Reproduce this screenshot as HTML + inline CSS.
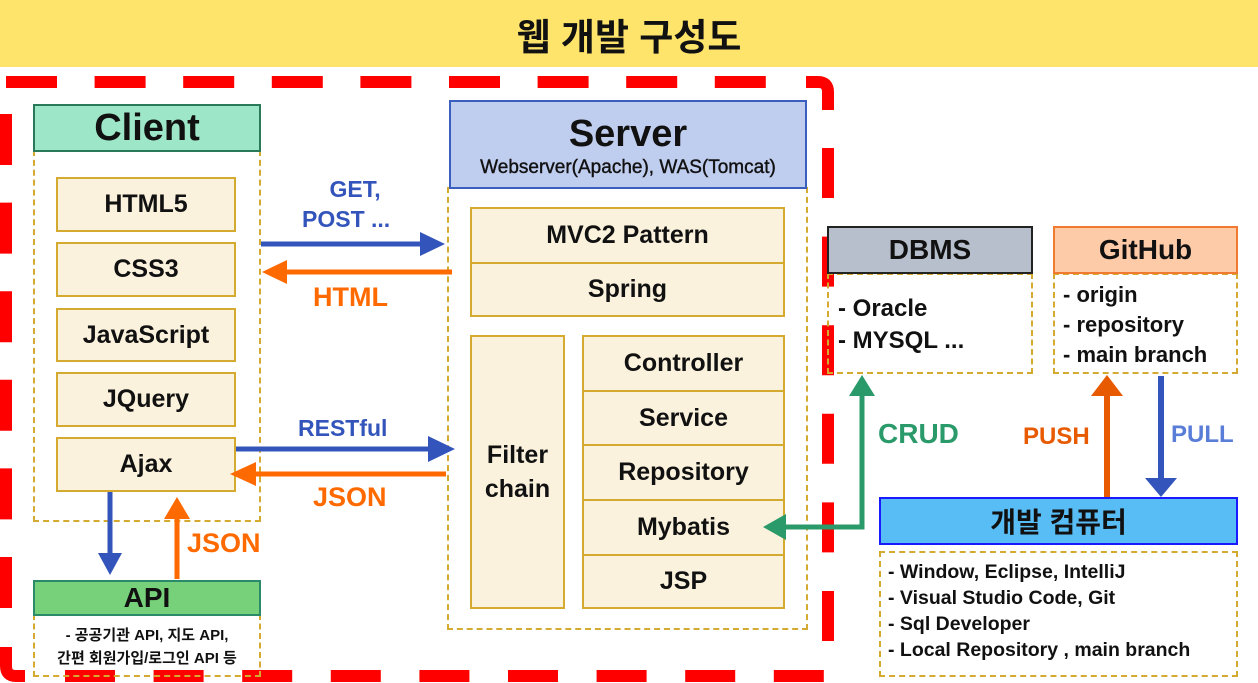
<!DOCTYPE html>
<html><head><meta charset="utf-8"><style>
body{margin:0;width:1258px;height:683px;position:relative;overflow:hidden;background:#fff;font-family:"Liberation Sans","Noto Sans CJK KR",sans-serif;font-weight:bold;color:#111}
.a{position:absolute;box-sizing:border-box;display:flex;align-items:center;justify-content:center;text-align:center}
.i{background:#faf2dc;border:2px solid #d4aa30;font-size:25px}
.d{position:absolute;box-sizing:border-box;border:2px dashed #d4aa30}
.t{position:absolute;white-space:nowrap}
</style></head><body>
<div class="a" style="left:0;top:0;width:1258px;height:67px;background:#fee46a;font-size:37px">웹 개발 구성도</div>
<svg style="position:absolute;left:0;top:0" width="1258" height="683">
<g stroke="#ff0000" stroke-width="12" fill="none">
<line x1="6" y1="82" x2="800" y2="82" stroke-dasharray="51 37.6"/>
<line x1="6" y1="114" x2="6" y2="640" stroke-dasharray="51 37.6"/>
<line x1="828" y1="148" x2="828" y2="645" stroke-dasharray="50 38.6"/>
<line x1="65" y1="676" x2="826" y2="676" stroke-dasharray="50 38.6"/>
<path d="M806,82 L818,82 Q828,82 828,92 L828,110"/>
<path d="M6,647 L6,666 Q6,676 16,676 L25,676"/>
</g>
</svg>
<!-- Client -->
<div class="d" style="left:33px;top:150px;width:228px;height:372px"></div>
<div class="a" style="left:33px;top:104px;width:228px;height:48px;background:#9de6c7;border:2px solid #2a7a5a;font-size:38px">Client</div>
<div class="a i" style="left:56px;top:177px;width:180px;height:55px">HTML5</div>
<div class="a i" style="left:56px;top:242px;width:180px;height:55px">CSS3</div>
<div class="a i" style="left:56px;top:308px;width:180px;height:54px">JavaScript</div>
<div class="a i" style="left:56px;top:372px;width:180px;height:55px">JQuery</div>
<div class="a i" style="left:56px;top:437px;width:180px;height:55px">Ajax</div>
<!-- API -->
<div class="d" style="left:33px;top:614px;width:228px;height:63px"></div>
<div class="a" style="left:33px;top:580px;width:228px;height:36px;background:#77d17a;border:2px solid #2a8a6a;font-size:28px">API</div>
<div class="t" style="left:33px;top:624px;width:228px;text-align:center;font-size:15px;line-height:23px">- 공공기관 API, 지도 API,<br>간편 회원가입/로그인 API 등</div>
<!-- Server -->
<div class="d" style="left:447px;top:187px;width:361px;height:443px"></div>
<div class="a" style="left:449px;top:100px;width:358px;height:89px;background:#bfcdee;border:2px solid #3a5fbf;flex-direction:column">
<div style="font-size:38px;line-height:46px">Server</div><div style="font-size:19px;font-weight:normal;-webkit-text-stroke:0.4px #111">Webserver(Apache), WAS(Tomcat)</div></div>
<div class="a i" style="left:470px;top:207px;width:315px;height:57px">MVC2 Pattern</div>
<div class="a i" style="left:470px;top:262px;width:315px;height:55px">Spring</div>
<div class="a i" style="left:470px;top:335px;width:95px;height:274px;line-height:34px">Filter<br>chain</div>
<div class="a i" style="left:582px;top:335px;width:203px;height:57px">Controller</div>
<div class="a i" style="left:582px;top:390px;width:203px;height:56px">Service</div>
<div class="a i" style="left:582px;top:444px;width:203px;height:57px">Repository</div>
<div class="a i" style="left:582px;top:499px;width:203px;height:57px">Mybatis</div>
<div class="a i" style="left:582px;top:554px;width:203px;height:55px">JSP</div>
<!-- DBMS -->
<div class="d" style="left:827px;top:273px;width:206px;height:101px"></div>
<div class="a" style="left:827px;top:226px;width:206px;height:48px;background:#b8bfcc;border:2px solid #222;font-size:28px">DBMS</div>
<div class="t" style="left:838px;top:293px;font-size:24px;line-height:32px">- Oracle<br>- MYSQL ...</div>
<!-- GitHub -->
<div class="d" style="left:1053px;top:273px;width:185px;height:101px"></div>
<div class="a" style="left:1053px;top:226px;width:185px;height:48px;background:#fdcba8;border:2px solid #f07a30;font-size:28px">GitHub</div>
<div class="t" style="left:1063px;top:280px;font-size:22px;line-height:30px">- origin<br>- repository<br>- main branch</div>
<!-- Dev -->
<div class="d" style="left:879px;top:551px;width:359px;height:126px"></div>
<div class="a" style="left:879px;top:497px;width:359px;height:48px;background:#58bdf5;border:2px solid #1a1aff;font-size:28px">개발 컴퓨터</div>
<div class="t" style="left:888px;top:559px;font-size:19.5px;line-height:26px">- Window, Eclipse, IntelliJ<br>- Visual Studio Code, Git<br>- Sql Developer<br>- Local Repository , main branch</div>
<!-- arrows -->
<svg style="position:absolute;left:0;top:0" width="1258" height="683">
<g stroke-width="5" fill="none">
<line x1="261" y1="244" x2="422" y2="244" stroke="#3355bb"/>
<line x1="452" y1="272" x2="285" y2="272" stroke="#ff6a00"/>
<line x1="236" y1="449" x2="430" y2="449" stroke="#3355bb"/>
<line x1="446" y1="474" x2="255" y2="474" stroke="#ff6a00"/>
<line x1="110" y1="492" x2="110" y2="555" stroke="#3355bb"/>
<line x1="177" y1="579" x2="177" y2="518" stroke="#ff6a00"/>
<polyline points="785,527 862,527 862,396" stroke="#2a9a6a"/>
<line x1="1107" y1="497" x2="1107" y2="396" stroke="#e85a00" stroke-width="6"/>
<line x1="1161" y1="376" x2="1161" y2="478" stroke="#3355bb" stroke-width="6"/>
</g>
<polygon points="420,232 445,244 420,256" fill="#3355bb"/>
<polygon points="287,260 262,272 287,284" fill="#ff6a00"/>
<polygon points="428,436 455,449 428,462" fill="#3355bb"/>
<polygon points="256,462 230,474 256,486" fill="#ff6a00"/>
<polygon points="98,553 110,575 122,553" fill="#3355bb"/>
<polygon points="164,519 177,497 190,519" fill="#ff6a00"/>
<polygon points="786,514 763,527 786,540" fill="#2a9a6a"/>
<polygon points="849,396 862,375 875,396" fill="#2a9a6a"/>
<polygon points="1091,396 1107,375 1123,396" fill="#e85a00"/>
<polygon points="1145,478 1161,497 1177,478" fill="#3355bb"/>
</svg>
<div class="t" style="left:320px;top:174px;font-size:23px;line-height:30px;color:#3355bb;text-align:center">GET,<br><span style="margin-left:-18px">POST ...</span></div>
<div class="t" style="left:313px;top:282px;font-size:27px;color:#ff6a00">HTML</div>
<div class="t" style="left:298px;top:415px;font-size:23px;color:#3355bb">RESTful</div>
<div class="t" style="left:313px;top:482px;font-size:27px;color:#ff6a00">JSON</div>
<div class="t" style="left:187px;top:528px;font-size:27px;color:#ff6a00">JSON</div>
<div class="t" style="left:878px;top:418px;font-size:28px;color:#2a9a6a">CRUD</div>
<div class="t" style="left:1023px;top:423px;font-size:24px;color:#e85a00">PUSH</div>
<div class="t" style="left:1171px;top:421px;font-size:24px;color:#5a7ed8">PULL</div>
</body></html>
